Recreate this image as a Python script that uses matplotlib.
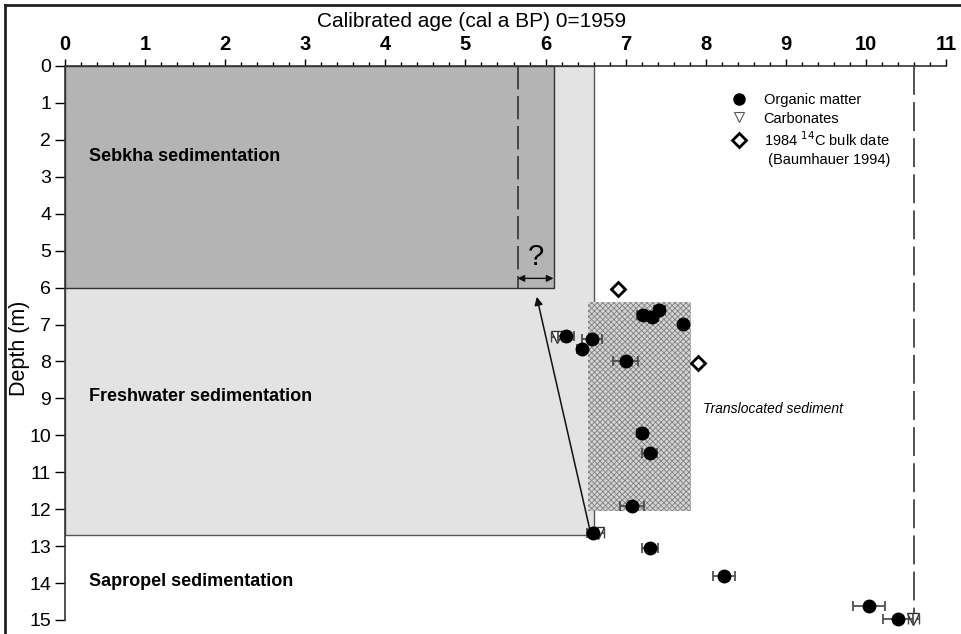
import matplotlib
matplotlib.use("Agg")
import matplotlib.pyplot as plt
from matplotlib.lines import Line2D
from matplotlib.patches import Rectangle

plt.rcParams["font.family"] = ["Liberation Sans", "DejaVu Sans"]
plt.rcParams["hatch.linewidth"] = 0.6

# organic matter dates: age (ka cal BP), depth (m), age error
om_age = [7.42, 7.22, 7.33, 7.72, 6.25, 6.58, 6.45, 7.00, 7.20, 7.30, 7.08, 6.59, 7.30, 8.23, 10.04, 10.40]
om_depth = [6.61, 6.75, 6.80, 6.99, 7.32, 7.40, 7.67, 7.99, 9.94, 10.49, 11.90, 12.65, 13.04, 13.82, 14.63, 14.96]
om_err = [0.07, 0.08, 0.08, 0.0, 0.10, 0.12, 0.06, 0.16, 0.06, 0.09, 0.15, 0.07, 0.10, 0.14, 0.20, 0.19]

# carbonate dates
carb_age = [6.14, 6.66, 10.59]
carb_depth = [7.34, 12.65, 14.96]
carb_err = [0.07, 0.07, 0.07]

# 1984 bulk dates (Baumhauer 1994)
bulk_age = [6.90, 7.90]
bulk_depth = [6.05, 8.05]

# sedimentation units
sebkha_age, sebkha_bottom = 6.1, 6.0
fresh_age, fresh_bottom = 6.6, 12.7
transloc_age = (6.53, 7.82)
transloc_depth = (6.4, 12.05)
sebkha_onset = 5.65
core_base_age = 10.6


def main():
    fig = plt.figure(figsize=(9.62, 6.34), dpi=100)
    ax = fig.add_axes([65 / 962, 1 - 620 / 634, (946 - 65) / 962, (620 - 66) / 634])

    # units
    ax.add_patch(Rectangle((0, 0), fresh_age, fresh_bottom, facecolor="#e3e3e3",
                           edgecolor="#555555", lw=1.0, zorder=1))
    ax.add_patch(Rectangle((0, 0), sebkha_age, sebkha_bottom, facecolor="#b4b4b4",
                           edgecolor="#333333", lw=1.0, zorder=2))
    ax.add_patch(Rectangle((transloc_age[0], transloc_depth[0]),
                           transloc_age[1] - transloc_age[0],
                           transloc_depth[1] - transloc_depth[0],
                           facecolor="#d4d4d4", edgecolor="#808080", hatch="xxxxxx",
                           lw=0, zorder=3))
    ax.plot([sebkha_onset, sebkha_onset], [0, sebkha_bottom], color="#333333",
            lw=1.2, dashes=(14, 4), zorder=4)
    ax.plot([core_base_age, core_base_age], [0, carb_depth[-1]], color="#444444",
            lw=1.3, dashes=(16, 4), zorder=4)

    # uncertainty of sebkha onset
    ax.annotate("", xy=(sebkha_age, 5.75), xytext=(sebkha_onset, 5.75),
                arrowprops=dict(arrowstyle="<|-|>", color="#111111", lw=1.0,
                                mutation_scale=10, shrinkA=0, shrinkB=0), zorder=5)
    ax.text((sebkha_onset + sebkha_age) / 2, 5.55, "?", fontsize=21, ha="center",
            va="bottom", zorder=5)
    ax.annotate("", xy=(5.89, 6.25), xytext=(6.56, 12.62),
                arrowprops=dict(arrowstyle="-|>", color="#111111", lw=1.1,
                                mutation_scale=12, shrinkA=0, shrinkB=0), zorder=5)

    # data
    ax.errorbar(om_age, om_depth, xerr=om_err, fmt="o", ms=9, color="black",
                ecolor="#444444", elinewidth=1.2, capsize=3.5, capthick=1.2,
                zorder=7, clip_on=False)
    ax.errorbar(carb_age, carb_depth, xerr=carb_err, fmt="v", ms=8, mfc="white",
                mec="#333333", mew=1.0, ecolor="#444444", elinewidth=1.2, capsize=3.5,
                capthick=1.2, zorder=6, clip_on=False)
    ax.plot(bulk_age, bulk_depth, "D", ms=7, mfc="white", mec="black", mew=2,
            ls="none", zorder=7)

    # labels
    ax.text(0.3, 2.45, "Sebkha sedimentation", fontsize=13, fontweight="bold",
            va="center", zorder=8)
    ax.text(0.3, 8.95, "Freshwater sedimentation", fontsize=13, fontweight="bold",
            va="center", zorder=8)
    ax.text(0.3, 13.95, "Sapropel sedimentation", fontsize=13, fontweight="bold",
            va="center", zorder=8)
    ax.text(7.97, 9.28, "Translocated sediment", fontsize=10, style="italic",
            va="center", zorder=8)

    handles = [
        Line2D([], [], marker="o", ls="none", color="black", ms=8),
        Line2D([], [], marker="v", ls="none", mfc="white", mec="#555555", ms=7, mew=0.8),
        Line2D([], [], marker="D", ls="none", mfc="white", mec="black", ms=7, mew=2),
        Line2D([], [], ls="none"),
    ]
    labels = ["Organic matter", "Carbonates", "1984 $^{14}$C bulk date", " (Baumhauer 1994)"]
    ax.legend(handles, labels, loc="upper left", bbox_to_anchor=(0.755, 0.951),
              frameon=False, fontsize=10.5, handletextpad=1.1, borderpad=0,
              labelspacing=0.3, handlelength=1.2, borderaxespad=0)

    # axes
    ax.set_xlim(0, 11)
    ax.set_ylim(15, 0)
    ax.xaxis.set_ticks_position("top")
    ax.xaxis.set_label_position("top")
    ax.set_xticks(range(12))
    ax.set_xticks([i * 0.2 for i in range(56)], minor=True)
    ax.set_yticks(range(16))
    for s in ("right", "bottom"):
        ax.spines[s].set_visible(False)
    for s in ("left", "top"):
        ax.spines[s].set_color("#333333")
        ax.spines[s].set_linewidth(1.2)
    ax.tick_params(axis="x", which="major", direction="out", length=5, width=1,
                   labelsize=14.5, pad=4)
    ax.tick_params(axis="x", which="minor", direction="out", length=3, width=1)
    ax.tick_params(axis="y", direction="out", length=7, width=1, labelsize=14, pad=3)
    for lab in ax.get_xticklabels():
        lab.set_fontweight("bold")
    ax.set_xlabel("Calibrated age (cal a BP) 0=1959", fontsize=15)
    ax.xaxis.set_label_coords(0.462, 1.071)
    ax.set_ylabel("Depth (m)", fontsize=15.5)
    ax.yaxis.set_label_coords(-0.04, 0.49)

    # outer frame (top and left edges)
    fig.add_artist(Line2D([5 / 962, 5 / 962], [0, 1 - 5 / 634], color="#222222", lw=2))
    fig.add_artist(Line2D([5 / 962, 1], [1 - 5 / 634, 1 - 5 / 634], color="#222222", lw=2))

    fig.savefig("out.png", dpi=100)


if __name__ == "__main__":
    main()
